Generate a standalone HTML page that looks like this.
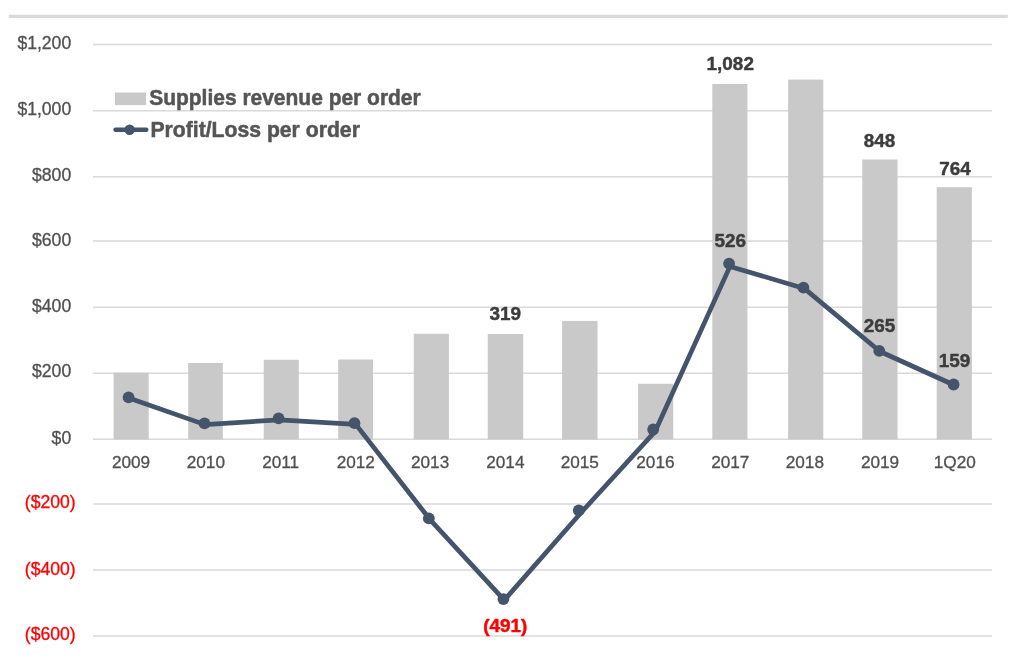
<!DOCTYPE html>
<html lang="en"><head><meta charset="utf-8"><title>Supplies revenue and profit/loss per order</title>
<style>
html,body{margin:0;padding:0;background:#fff;}
body{width:1023px;height:659px;overflow:hidden;}
svg{display:block;font-family:"Liberation Sans",sans-serif;}
.ax{font-size:17.6px;fill:#505050;stroke:#505050;stroke-width:0.3px;}
.xl{font-size:17.2px;}
.neg{font-size:17.6px;fill:#ff0000;stroke:#ff0000;stroke-width:0.3px;}
.dl{font-size:18.9px;font-weight:bold;fill:#3c3c3c;stroke:#3c3c3c;stroke-width:0.45px;stroke-linejoin:round;}
.lg{font-size:21.8px;font-weight:bold;fill:#555555;stroke:#555555;stroke-width:0.5px;stroke-linejoin:round;}
</style></head><body>
<svg width="1023" height="659" viewBox="0 0 1023 659">
<rect x="0" y="0" width="1023" height="659" fill="#ffffff"/>
<rect x="8.75" y="14.75" width="999" height="3.25" fill="#d9d9d9"/>
<g stroke="#d9d9d9" stroke-width="1.5">
<line x1="93" y1="44.60" x2="992" y2="44.60"/>
<line x1="93" y1="110.80" x2="992" y2="110.80"/>
<line x1="93" y1="176.80" x2="992" y2="176.80"/>
<line x1="93" y1="241.00" x2="992" y2="241.00"/>
<line x1="93" y1="307.15" x2="992" y2="307.15"/>
<line x1="93" y1="373.25" x2="992" y2="373.25"/>
<line x1="93" y1="439.30" x2="992" y2="439.30"/>
<line x1="93" y1="503.90" x2="992" y2="503.90"/>
<line x1="93" y1="570.00" x2="992" y2="570.00"/>
<line x1="93" y1="636.00" x2="992" y2="636.00"/>
</g>
<g fill="#c9c9c9">
<rect x="113.6" y="372.7" width="35.10" height="66.70"/>
<rect x="188.2" y="363" width="34.60" height="76.40"/>
<rect x="263.7" y="359.75" width="35.10" height="79.65"/>
<rect x="338.2" y="359.5" width="34.80" height="79.90"/>
<rect x="413.75" y="333.75" width="35.15" height="105.65"/>
<rect x="487.75" y="334" width="35.45" height="105.40"/>
<rect x="562.1" y="320.9" width="35.40" height="118.50"/>
<rect x="638.1" y="383.75" width="35.15" height="55.65"/>
<rect x="712.3" y="84" width="35.10" height="355.40"/>
<rect x="788.1" y="79.6" width="35.20" height="359.80"/>
<rect x="862.3" y="159.5" width="35.20" height="279.90"/>
<rect x="936.7" y="187.2" width="35.20" height="252.20"/>
</g>
<text class="ax" x="71.2" y="49.05" text-anchor="end">$1,200</text>
<text class="ax" x="71.2" y="114.50" text-anchor="end">$1,000</text>
<text class="ax" x="71.2" y="180.65" text-anchor="end">$800</text>
<text class="ax" x="71.2" y="246.00" text-anchor="end">$600</text>
<text class="ax" x="71.2" y="312.20" text-anchor="end">$400</text>
<text class="ax" x="71.2" y="377.35" text-anchor="end">$200</text>
<text class="ax" x="71.2" y="443.50" text-anchor="end">$0</text>
<text class="neg" x="75.7" y="508.00" text-anchor="end">($200)</text>
<text class="neg" x="75.7" y="574.50" text-anchor="end">($400)</text>
<text class="neg" x="75.7" y="639.70" text-anchor="end">($600)</text>
<text class="ax xl" x="131.00" y="468" text-anchor="middle">2009</text>
<text class="ax xl" x="205.85" y="468" text-anchor="middle">2010</text>
<text class="ax xl" x="280.70" y="468" text-anchor="middle">2011</text>
<text class="ax xl" x="355.75" y="468" text-anchor="middle">2012</text>
<text class="ax xl" x="430.10" y="468" text-anchor="middle">2013</text>
<text class="ax xl" x="505.35" y="468" text-anchor="middle">2014</text>
<text class="ax xl" x="579.80" y="468" text-anchor="middle">2015</text>
<text class="ax xl" x="655.45" y="468" text-anchor="middle">2016</text>
<text class="ax xl" x="730.30" y="468" text-anchor="middle">2017</text>
<text class="ax xl" x="804.85" y="468" text-anchor="middle">2018</text>
<text class="ax xl" x="880.00" y="468" text-anchor="middle">2019</text>
<text class="ax xl" x="954.85" y="468" text-anchor="middle">1Q20</text>
<path d="M129.5,398.3 L205.0,424.6 L279.3,419.8 L355.8,424.4 L429.8,519.3 L504.3,600.1 L582.1,511.5 L655.2,431.3 L730,266.4 L804.2,288.4 L880,351.5 L954,385" fill="none" stroke="#44546a" stroke-width="4.7" stroke-linejoin="round" stroke-linecap="round"/>
<g fill="#44546a">
<circle cx="128.6" cy="397.3" r="5.9"/>
<circle cx="204.5" cy="423.4" r="5.9"/>
<circle cx="278.6" cy="418.4" r="5.9"/>
<circle cx="354.5" cy="423.2" r="5.9"/>
<circle cx="428.8" cy="518.4" r="5.9"/>
<circle cx="503.4" cy="599.1" r="5.9"/>
<circle cx="578.8" cy="510.45" r="5.9"/>
<circle cx="653.2" cy="429.5" r="5.9"/>
<circle cx="729.1" cy="263.6" r="5.9"/>
<circle cx="803.45" cy="287.7" r="5.9"/>
<circle cx="879.3" cy="350.9" r="5.9"/>
<circle cx="953.6" cy="384.5" r="5.9"/>
</g>
<text class="dl" x="505.25" y="320.1" text-anchor="middle">319</text>
<text class="dl" x="730.25" y="70.1" text-anchor="middle">1,082</text>
<text class="dl" x="879.4" y="146.6" text-anchor="middle">848</text>
<text class="dl" x="955" y="174.55" text-anchor="middle">764</text>
<text class="dl" x="730.25" y="246.85" text-anchor="middle">526</text>
<text class="dl" x="879.4" y="331.85" text-anchor="middle">265</text>
<text class="dl" x="954.6" y="367.05" text-anchor="middle">159</text>
<text class="dl" x="505.3" y="631.5" text-anchor="middle" style="fill:#ff0000;stroke:#ff0000">(491)</text>
<rect x="115" y="92.5" width="31" height="12.6" fill="#c9c9c9"/>
<text class="lg" x="149.2" y="104.7" textLength="271.5" lengthAdjust="spacingAndGlyphs">Supplies revenue per order</text>
<line x1="115.5" y1="129.7" x2="146.3" y2="129.7" stroke="#44546a" stroke-width="4.4" stroke-linecap="round"/>
<circle cx="129.6" cy="129.7" r="5.2" fill="#44546a"/>
<text class="lg" x="150.4" y="136.6" textLength="209.5" lengthAdjust="spacingAndGlyphs">Profit/Loss per order</text>
</svg></body></html>
